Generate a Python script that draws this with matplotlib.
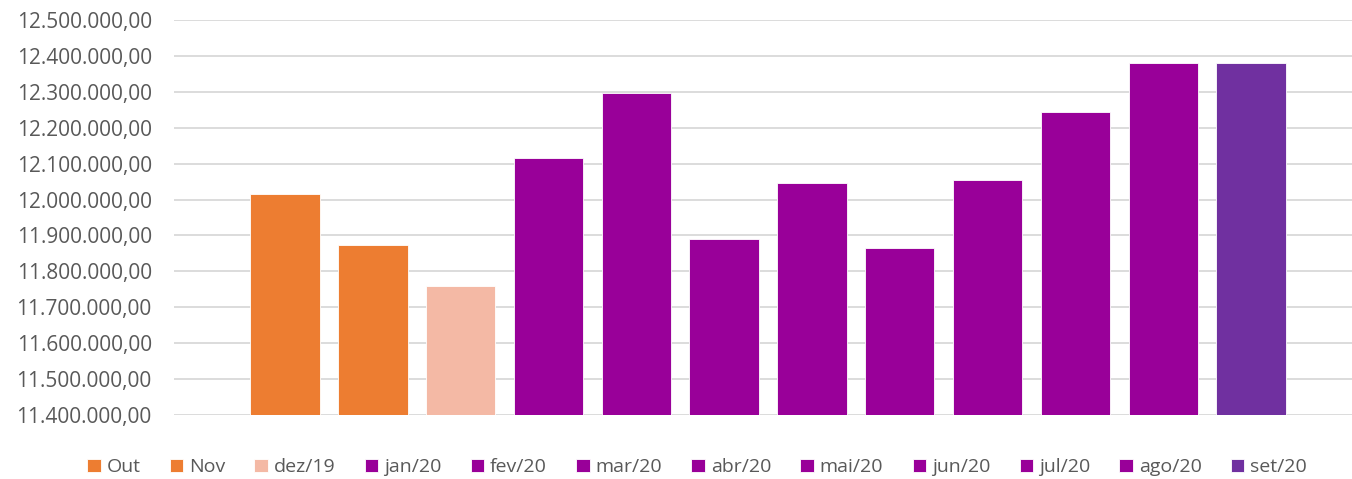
import matplotlib.pyplot as plt
from matplotlib.ticker import FuncFormatter

meses = ["Out", "Nov", "dez/19", "jan/20", "fev/20", "mar/20", "abr/20",
         "mai/20", "jun/20", "jul/20", "ago/20", "set/20"]
valores = [12015000, 11873000, 11759000, 12115000, 12297000, 11889000,
           12045000, 11864000, 12055000, 12245000, 12379000, 12380000]
cores = ["#ED7D31", "#ED7D31", "#F4B9A5", "#990099", "#990099", "#990099",
         "#990099", "#990099", "#990099", "#990099", "#990099", "#7030A0"]

plt.rcParams['font.family'] = ['Open Sans', 'DejaVu Sans']

def fmt(v, pos):
    s = "{:,.2f}".format(v)
    return s.replace(",", "X").replace(".", ",").replace("X", ".")

fig = plt.figure(figsize=(13.52, 4.79), dpi=100)
ax = fig.add_axes([0.1287, 0.1336, 0.8713, 0.8246])

for i, (m, v, c) in enumerate(zip(meses, valores, cores)):
    ax.bar(i, v - 11400000, bottom=11400000, width=0.79, color=c,
           edgecolor="white", linewidth=0.6, label=m, zorder=3)

ax.set_ylim(11400000, 12500000)
ax.set_xlim(-1.264, 12.15)
ax.set_yticks(range(11400000, 12500001, 100000))
ax.yaxis.set_major_formatter(FuncFormatter(fmt))
ax.grid(axis="y", color="#D9D9D9", linewidth=1.3, zorder=0)
ax.set_xticks([])
for s in ax.spines.values():
    s.set_visible(False)
ax.tick_params(axis="y", length=0, pad=16, labelsize=15, labelcolor="#595959")

leg = ax.legend(loc="upper center", bbox_to_anchor=(0.444, -0.065), ncol=12,
                frameon=False, fontsize=14, handlelength=0.7, handleheight=0.7,
                handletextpad=0.3, columnspacing=1.5)
for t in leg.get_texts():
    t.set_color("#595959")

fig.savefig("out.png", dpi=100)
